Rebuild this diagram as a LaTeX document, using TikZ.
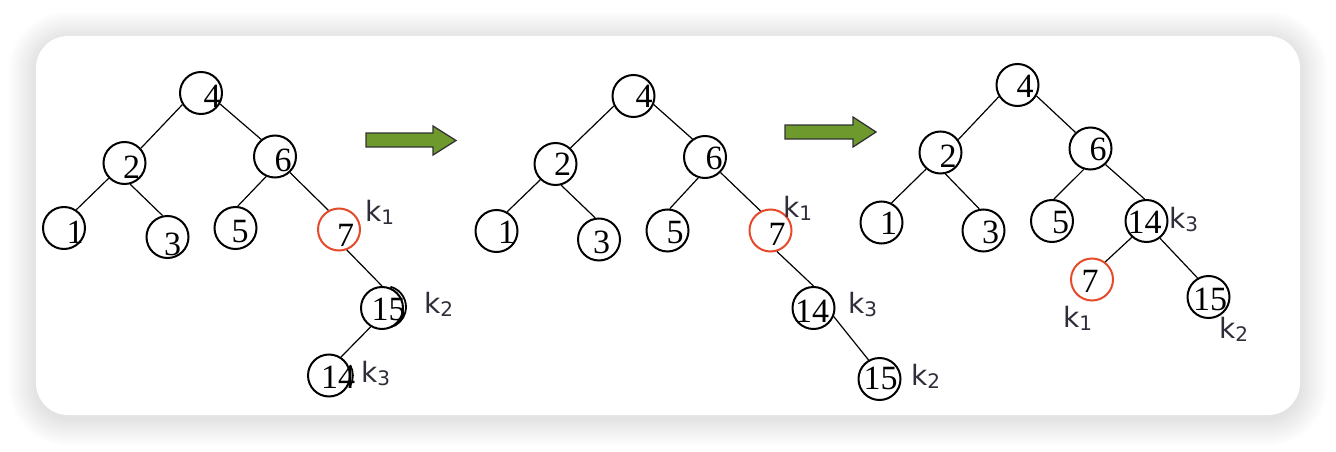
\documentclass[tikz,border=0pt]{standalone}
\usepackage{fontspec}
\setmainfont{Liberation Serif}
\newfontfamily\ksans{DejaVu Sans}
\usetikzlibrary{calc}
\definecolor{kcol}{HTML}{2E2E3A}
\definecolor{redc}{HTML}{E64A2A}
\definecolor{arrg}{HTML}{6E9A2D}
\newcommand\dg[3]{\smash{\makebox[0pt][l]{\hspace*{#1pt}\raisebox{-#2pt}{\makebox[0pt]{#3}}}}}
\newcommand\kl[1]{k\raisebox{-3.5pt}{\fontsize{20}{20}\selectfont #1}}
\begin{document}
\begin{tikzpicture}[x=1pt,y=-1pt,
  nd/.style={circle,draw=black,line width=2pt,minimum size=42pt,inner sep=0pt,font=\fontsize{34}{34}\selectfont},
  rd/.style={nd,draw=redc},
  ed/.style={line width=1.2pt},
  kk/.style={anchor=base west,inner sep=0pt,text=kcol,font=\ksans\fontsize{28}{28}\selectfont},
  garrow/.style={fill=arrg,draw=black!80,line width=1.3pt,line join=miter}]
\useasboundingbox (0,0) rectangle (1336,452);
\fill[white] (0,0) rectangle (1336,452);
% shadow and card
\foreach \i [evaluate=\i as \r using 32+\i] in {1,...,28}{
  \fill[black,opacity=0.0035,rounded corners=\r pt] (36-\i,39-\i) rectangle (1300+\i,418+\i);
}
\fill[white,rounded corners=32pt] (36,36) rectangle (1300,415);

% ---------- tree 1 ----------
\node[nd] (a4) at (201,93) {\dg{11}{14}{4}};
\node[nd] (a2) at (124.5,163) {\dg{7}{15}{2}};
\node[nd] (a6) at (275,156.5) {\dg{8}{15}{6}};
\node[nd] (a1) at (64,228) {\dg{11}{15}{1}};
\node[nd] (a3) at (167.5,237) {\dg{5}{18}{3}};
\node[nd] (a5) at (235.5,228) {\dg{4.5}{14}{5}};
\node[rd] (a7) at (339,229.5) {\dg{6.5}{17}{7}};
\node[nd] (a15) at (382,308) {\dg{6.5}{12}{15}};
\node[nd] (a14) at (329,375.5) {\dg{9}{12.5}{14}};
\draw[line width=1.8pt] (a15.center) ++(3,-1) ++(-75:21) arc[start angle=-75,end angle=75,radius=21];
\draw[line width=1.6pt] (a14.center) ++(3,0) ++(-30:21) arc[start angle=-30,end angle=30,radius=21];
\draw[ed] (a4.212) -- (a2.42);
\draw[ed] (a4.-30) -- (a6.129);
\draw[ed] (a2.224) -- (a1.56);
\draw[ed] (a2.-75) -- (a3.103);
\draw[ed] (a6.246) -- (a5.84);
\draw[ed] (a6.-47) -- (a7.119);
\draw[ed] (a7.-69) -- (a15.90);
\draw[ed] (a15.239) -- (a14.57);
\node[kk] (ak1) at (365,221) {\kl{1}};
\node[kk] (ak2) at (424,313) {\kl{2}};
\node[kk] (ak3) at (361,382) {\kl{3}};

% ---------- arrows ----------
\draw[garrow] (366,133) -- (433,133) -- (433,126) -- (456,140.5) -- (433,155) -- (433,147) -- (366,147) -- cycle;
\draw[garrow] (785,125) -- (853,125) -- (853,117) -- (876,132) -- (853,147) -- (853,139) -- (785,139) -- cycle;

% ---------- tree 2 ----------
\node[nd] (b4) at (633.5,96) {\dg{10.5}{11}{4}};
\node[nd] (b2) at (555.5,164) {\dg{7}{11}{2}};
\node[nd] (b6) at (705,157) {\dg{9}{13}{6}};
\node[nd] (b1) at (496.5,231) {\dg{10}{12}{1}};
\node[nd] (b3) at (599,239.5) {\dg{2.5}{13.5}{3}};
\node[nd] (b5) at (667.5,230.5) {\dg{7.5}{12.5}{5}};
\node[rd] (b7) at (770.5,230.5) {\dg{6.5}{14.5}{7}};
\node[nd] (b14) at (813.5,308) {\dg{-1.5}{14}{14}};
\node[nd] (b15) at (879.5,379) {\dg{1}{10}{15}};
\draw[ed] (b4.207) -- (b2.47);
\draw[ed] (b4.-23) -- (b6.125);
\draw[ed] (b2.226) -- (b1.61);
\draw[ed] (b2.-75) -- (b3.100);
\draw[ed] (b6.252) -- (b5.84);
\draw[ed] (b6.-45) -- (b7.117);
\draw[ed] (b7.-73) -- (b14.90);
\draw[ed] (b14.-23) -- (b15.120);
\node[kk] (bk1) at (783,217) {\kl{1}};
\node[kk] (bk3) at (848,313) {\kl{3}};
\node[kk] (bk2) at (911,385) {\kl{2}};

% ---------- tree 3 ----------
\node[nd] (c4) at (1017.5,85) {\dg{7.5}{12}{4}};
\node[nd] (c2) at (940.5,152.5) {\dg{7.5}{14.5}{2}};
\node[nd] (c6) at (1090.5,148.5) {\dg{7.5}{11.5}{6}};
\node[nd] (c1) at (881.5,222.5) {\dg{7}{11.5}{1}};
\node[nd] (c3) at (983.5,230.5) {\dg{7}{12.5}{3}};
\node[nd] (c5) at (1052,221) {\dg{8.5}{12}{5}};
\node[nd] (c14) at (1146.5,221) {\dg{-2}{12}{14}};
\node[rd] (c7) at (1092,279.5) {\dg{-2}{12.5}{7}};
\node[nd] (c15) at (1208.5,297) {\dg{1.5}{13}{15}};
\draw[ed] (c4.212) -- (c2.36);
\draw[ed] (c4.-30) -- (c6.133);
\draw[ed] (c2.229) -- (c1.63);
\draw[ed] (c2.-77) -- (c3.101);
\draw[ed] (c6.252) -- (c5.85);
\draw[ed] (c6.-47) -- (c14.95);
\draw[ed] (c14.228) -- (c7.53);
\draw[ed] (c14.-52) -- (c15.120);
\node[kk] (ck3) at (1169,228) {\kl{3}};
\node[kk] (ck1) at (1063,327) {\kl{1}};
\node[kk] (ck2) at (1219,338) {\kl{2}};
\end{tikzpicture}
\end{document}
